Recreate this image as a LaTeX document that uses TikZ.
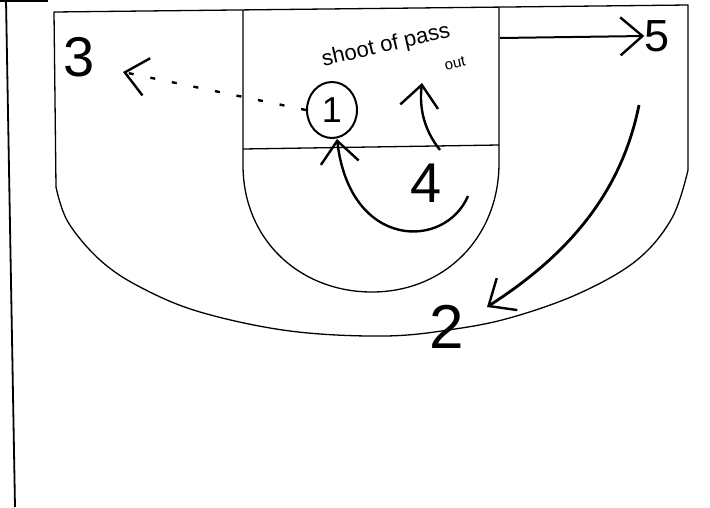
\documentclass[tikz,border=0pt]{standalone}
\usepackage{fontspec}
\setmainfont{Liberation Sans}
\usetikzlibrary{positioning,arrows.meta,shapes.geometric}
\tikzset{
  court/.style={line width=1.3pt, line join=round},
  player/.style={inner sep=0pt, font=\fontsize{56}{60}\selectfont},
  note/.style={inner sep=0pt, rotate=13, font=\fontsize{22}{24}\selectfont},
  cut/.style={-{Straight Barb[length=22pt, width=38pt, line width=2.4pt]}, line width=2.4pt},
  passline/.style={cut, line width=2.4pt, dash pattern=on 5pt off 17pt},
}

\begin{document}
\begin{tikzpicture}[x=1pt, y=-1pt]
  \useasboundingbox (0,0) rectangle (710,507);
  % sheet edge
  \draw[court] (0,1) -- (48,1);
  \draw[court, line width=1.8pt] (6,0) -- (15,507);
  % half court
  \draw[court] (56,187) -- (54,12) -- (688,5) -- (688,170);
  \draw[court] plot[smooth, tension=0.6] coordinates {(56,187) (68,222) (100,260) (140,287) (200,312) (290,331) (385,336) (455,329) (513,317) (580,293) (637,260) (672,218) (688,170)};
  % lane
  \draw[court] (243,10) -- (243,165) .. controls (243,240) and (300,292) .. (372,292)
    .. controls (444,292) and (499,238) .. (499,163) -- (499,7);
  \draw[court] (243,149) -- (499,145);

  % players
  \node[player] (three) at (79,57) {3};
  \node[draw, ellipse, line width=2pt, minimum width=50pt, minimum height=56pt, inner sep=0pt,
    font=\fontsize{36}{40}\selectfont] (one) at (332,110) {1};
  \node[player] (four) at (426,183) {4};
  \node[player, font=\fontsize{45}{50}\selectfont] (five) at (657,36) {5};
  \node[player, font=\fontsize{62}{66}\selectfont] (two) at (447,327) {2};

  % note
  \node[note] (shootnote) at (386,46) {shoot of pass};
  \node[note, font=\fontsize{15}{17}\selectfont] (outnote) at (455,63) {out};

  % free ends
  \coordinate (catch3) at (123,72);
  \coordinate (start4) at (468,196);
  \coordinate (up4) at (440,150);
  \coordinate (shot4) at (422,83);
  \coordinate (wing) at (500,38);
  \coordinate (start5) at (639,105);
  \coordinate (catch2) at (487,307);

  % passes and cuts
  \draw[passline] (one.west) -- (catch3);
  \draw[cut] (start4) .. controls (445,250) and (350,250) .. ([xshift=5pt]one.south);
  \draw[cut] (up4) .. controls (424,130) and (419,108) .. (shot4);
  \draw[cut, line width=2pt] (wing) -- (five.west);
  \draw[cut, line width=2.8pt] (start5) .. controls (620,200) and (560,260) .. (catch2);
\end{tikzpicture}
\end{document}
